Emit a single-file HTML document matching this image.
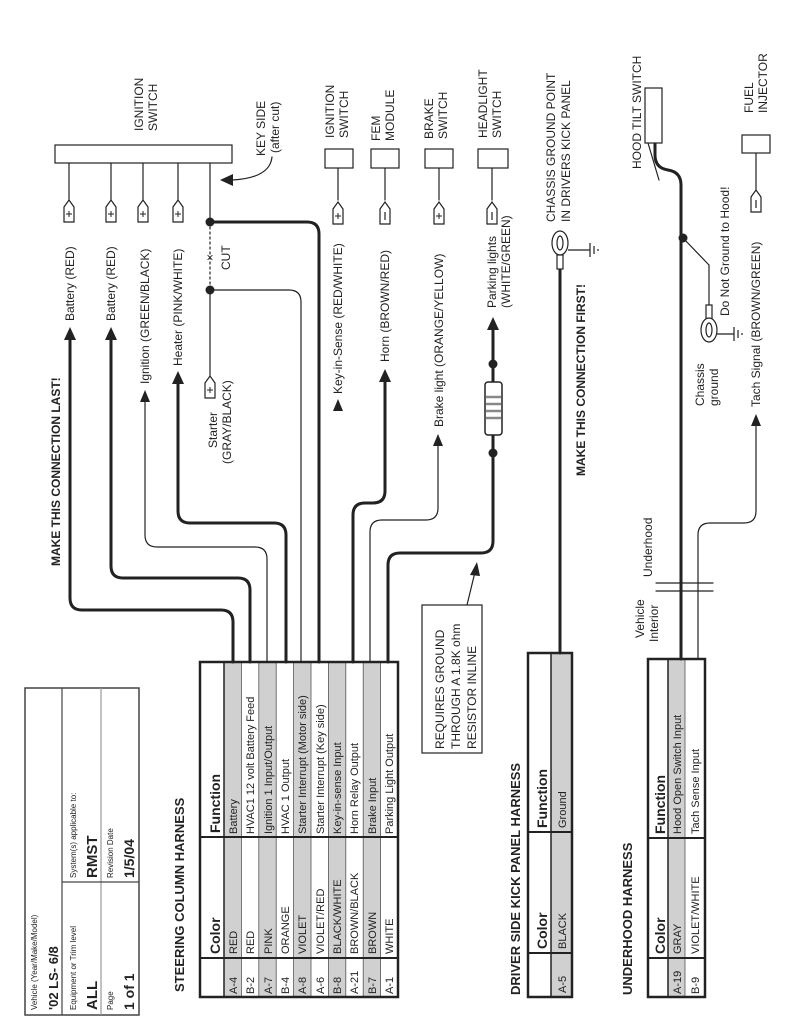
<!DOCTYPE html>
<html><head><meta charset="utf-8"><style>
html,body{margin:0;padding:0;background:#fff}
svg{display:block;font-family:"Liberation Sans",sans-serif}
.l{font-size:12px}
</style></head><body>
<svg width="800" height="1035" viewBox="0 0 800 1035" xmlns="http://www.w3.org/2000/svg">
<defs>
<g id="cp"><polygon points="-5,22 5,22 5,7 0,0 -5,7" fill="#fff" stroke="#222" stroke-width="1.2"/><line x1="-3" y1="14" x2="3" y2="14" stroke="#222" stroke-width="1"/><line x1="0" y1="11" x2="0" y2="17" stroke="#222" stroke-width="1"/></g>
<g id="cm"><polygon points="-5,22 5,22 5,7 0,0 -5,7" fill="#fff" stroke="#222" stroke-width="1.2"/><line x1="0" y1="10" x2="0" y2="18" stroke="#222" stroke-width="1.2"/></g>
</defs>
<g fill="#222" font-size="11">

<!-- Info box -->
<rect x="25" y="688" width="114" height="327" fill="#fff" stroke="#444" stroke-width="1.5"/>
<line x1="62" y1="688" x2="62" y2="1015" stroke="#444" stroke-width="1.2"/>
<line x1="101" y1="688" x2="101" y2="1015" stroke="#999" stroke-width="1.2"/>
<line x1="62" y1="882" x2="139" y2="882" stroke="#444" stroke-width="1.2"/>
<text font-size="8" transform="translate(37 1010) rotate(-90)">Vehicle (Year/Make/Model)</text>
<text font-size="13" font-weight="bold" transform="translate(58 1010) rotate(-90)">'02 LS- 6/8</text>
<text font-size="8" transform="translate(76 1010) rotate(-90)">Equipment or Trim level</text>
<text font-size="15" font-weight="bold" transform="translate(97 1010) rotate(-90)">ALL</text>
<text font-size="8" transform="translate(76 878) rotate(-90)">System(s) applicable to:</text>
<text font-size="15" font-weight="bold" transform="translate(97 878) rotate(-90)">RMST</text>
<text font-size="8" transform="translate(113 1010) rotate(-90)">Page</text>
<text font-size="14" font-weight="bold" transform="translate(134 1010) rotate(-90)">1 of 1</text>
<text font-size="8" transform="translate(113 878) rotate(-90)">Revision Date</text>
<text font-size="14" font-weight="bold" transform="translate(134 878) rotate(-90)">1/5/04</text>

<!-- Steering column table -->
<text font-size="13" font-weight="bold" transform="translate(184 992) rotate(-90)">STEERING COLUMN HARNESS</text>
<rect x="200" y="662" width="198" height="335" fill="#fff"/>
<rect x="224" y="662" width="17.4" height="335" fill="#d0d0d0"/>
<rect x="258.8" y="662" width="17.4" height="335" fill="#d0d0d0"/>
<rect x="293.6" y="662" width="17.4" height="335" fill="#d0d0d0"/>
<rect x="328.4" y="662" width="17.4" height="335" fill="#d0d0d0"/>
<rect x="363.2" y="662" width="17.4" height="335" fill="#d0d0d0"/>
<g stroke="#555" stroke-width="0.8">
<line x1="241.4" y1="662" x2="241.4" y2="997"/><line x1="258.8" y1="662" x2="258.8" y2="997"/><line x1="276.2" y1="662" x2="276.2" y2="997"/><line x1="293.6" y1="662" x2="293.6" y2="997"/><line x1="311" y1="662" x2="311" y2="997"/><line x1="328.4" y1="662" x2="328.4" y2="997"/><line x1="345.8" y1="662" x2="345.8" y2="997"/><line x1="363.2" y1="662" x2="363.2" y2="997"/><line x1="380.6" y1="662" x2="380.6" y2="997"/>
</g>
<line x1="224" y1="662" x2="224" y2="997" stroke="#222" stroke-width="1.5"/>
<line x1="200" y1="837" x2="398" y2="837" stroke="#222" stroke-width="2"/>
<line x1="200" y1="958" x2="398" y2="958" stroke="#222" stroke-width="2"/>
<rect x="200" y="662" width="198" height="335" fill="none" stroke="#222" stroke-width="2.5"/>
<text font-size="14" font-weight="bold" transform="translate(220 954) rotate(-90)">Color</text>
<text font-size="14" font-weight="bold" transform="translate(220 833) rotate(-90)">Function</text>
<g font-size="11">
<text transform="translate(237 994) rotate(-90)">A-4</text><text transform="translate(237 954) rotate(-90)">RED</text><text transform="translate(237 834) rotate(-90)">Battery</text>
<text transform="translate(254 994) rotate(-90)">B-2</text><text transform="translate(254 954) rotate(-90)">RED</text><text transform="translate(254 834) rotate(-90)">HVAC1 12 volt Battery Feed</text>
<text transform="translate(272 994) rotate(-90)">A-7</text><text transform="translate(272 954) rotate(-90)">PINK</text><text transform="translate(272 834) rotate(-90)">Ignition 1 Input/Output</text>
<text transform="translate(289 994) rotate(-90)">B-4</text><text transform="translate(289 954) rotate(-90)">ORANGE</text><text transform="translate(289 834) rotate(-90)">HVAC 1 Output</text>
<text transform="translate(306 994) rotate(-90)">A-8</text><text transform="translate(306 954) rotate(-90)">VIOLET</text><text transform="translate(306 834) rotate(-90)">Starter Interrupt (Motor side)</text>
<text transform="translate(324 994) rotate(-90)">A-6</text><text transform="translate(324 954) rotate(-90)">VIOLET/RED</text><text transform="translate(324 834) rotate(-90)">Starter Interrupt (Key side)</text>
<text transform="translate(341 994) rotate(-90)">B-8</text><text transform="translate(341 954) rotate(-90)">BLACK/WHITE</text><text transform="translate(341 834) rotate(-90)">Key-in-sense Input</text>
<text transform="translate(358 994) rotate(-90)">A-21</text><text transform="translate(358 954) rotate(-90)">BROWN/BLACK</text><text transform="translate(358 834) rotate(-90)">Horn Relay Output</text>
<text transform="translate(376 994) rotate(-90)">B-7</text><text transform="translate(376 954) rotate(-90)">BROWN</text><text transform="translate(376 834) rotate(-90)">Brake Input</text>
<text transform="translate(393 994) rotate(-90)">A-1</text><text transform="translate(393 954) rotate(-90)">WHITE</text><text transform="translate(393 834) rotate(-90)">Parking Light Output</text>
</g>

<!-- Resistor note -->
<rect x="422" y="605" width="60" height="148" fill="#fff" stroke="#222" stroke-width="1.2"/>
<text class="l" transform="translate(444 749) rotate(-90)">REQUIRES GROUND</text>
<text class="l" transform="translate(460 749) rotate(-90)">THROUGH A 1.8K ohm</text>
<text class="l" transform="translate(476 749) rotate(-90)">RESISTOR INLINE</text>
<line x1="467" y1="605" x2="475" y2="572" stroke="#222" stroke-width="1.2"/>
<polygon points="477,562 470,575 480,576"/>

<!-- Kick panel table -->
<text font-size="13" font-weight="bold" transform="translate(520 995) rotate(-90)">DRIVER SIDE KICK PANEL HARNESS</text>
<rect x="551" y="653" width="21" height="344" fill="#d0d0d0"/>
<line x1="551" y1="653" x2="551" y2="997" stroke="#222" stroke-width="1.5"/>
<line x1="528" y1="832" x2="572" y2="832" stroke="#222" stroke-width="2"/>
<line x1="528" y1="953" x2="572" y2="953" stroke="#222" stroke-width="2"/>
<rect x="528" y="653" width="44" height="344" fill="none" stroke="#222" stroke-width="2.5"/>
<text font-size="14" font-weight="bold" transform="translate(547 949) rotate(-90)">Color</text>
<text font-size="14" font-weight="bold" transform="translate(547 828) rotate(-90)">Function</text>
<text font-size="11" transform="translate(566 993) rotate(-90)">A-5</text>
<text font-size="11" transform="translate(566 949) rotate(-90)">BLACK</text>
<text font-size="11" transform="translate(566 828) rotate(-90)">Ground</text>

<!-- Underhood table -->
<text font-size="13" font-weight="bold" transform="translate(632 995) rotate(-90)">UNDERHOOD HARNESS</text>
<rect x="668" y="659" width="17" height="338" fill="#d0d0d0"/>
<line x1="668" y1="659" x2="668" y2="997" stroke="#222" stroke-width="1.5"/>
<line x1="685" y1="659" x2="685" y2="997" stroke="#555" stroke-width="0.8"/>
<line x1="648" y1="838" x2="705" y2="838" stroke="#222" stroke-width="2"/>
<line x1="648" y1="958" x2="705" y2="958" stroke="#222" stroke-width="2"/>
<rect x="648" y="659" width="57" height="338" fill="none" stroke="#222" stroke-width="2.5"/>
<text font-size="14" font-weight="bold" transform="translate(665 954) rotate(-90)">Color</text>
<text font-size="14" font-weight="bold" transform="translate(665 834) rotate(-90)">Function</text>
<text font-size="11" transform="translate(681 994) rotate(-90)">A-19</text>
<text font-size="11" transform="translate(681 954) rotate(-90)">GRAY</text>
<text font-size="11" transform="translate(681 834) rotate(-90)">Hood Open Switch Input</text>
<text font-size="11" transform="translate(699 994) rotate(-90)">B-9</text>
<text font-size="11" transform="translate(699 954) rotate(-90)">VIOLET/WHITE</text>
<text font-size="11" transform="translate(699 834) rotate(-90)">Tach Sense Input</text>

<!-- Wires -->
<g fill="none" stroke="#222" stroke-linecap="round">
<path stroke-width="3" d="M233 662 V622 Q233 610 221 610 H82 Q70 610 70 598 V338"/>
<path stroke-width="3" d="M250 662 V590 Q250 578 238 578 H123 Q111 578 111 566 V338"/>
<path stroke-width="1.2" d="M267 662 V559 Q267 547 255 547 H157 Q145 547 145 535 V400"/>
<path stroke-width="3" d="M286 662 V535 Q286 523 274 523 H190 Q178 523 178 511 V382"/>
<path stroke-width="1.2" d="M301 662 V302 Q301 290 289 290 H210"/>
<path stroke-width="3" d="M319 662 V234 Q319 222 307 222 H210"/>
<path stroke-width="3" d="M353 662 V515 Q353 503 365 503 H373 Q385 503 385 491 V380"/>
<path stroke-width="1.2" d="M370 662 V532 Q370 520 382 520 H426 Q438 520 438 508 V445"/>
<path stroke-width="3" d="M388 662 V565 Q388 553 400 553 H481 Q493 553 493 541 V328"/>
<path stroke-width="3" d="M560 653 V268"/>
<path stroke-width="3" d="M681 659 V185 Q681 172 668 170 Q655 168 655 155 V143"/>
<path stroke-width="1.2" d="M698 659 V535 Q698 523 710 523 H744 Q756 523 756 511 V425"/>
<g stroke-width="1.2">
<line x1="69" y1="163" x2="69" y2="200"/><line x1="111" y1="163" x2="111" y2="200"/><line x1="143" y1="163" x2="143" y2="200"/><line x1="178" y1="163" x2="178" y2="200"/>
<line x1="210" y1="163" x2="210" y2="222"/>
<line x1="210" y1="290" x2="210" y2="376"/>
<line x1="338" y1="168" x2="338" y2="200"/><line x1="385" y1="168" x2="385" y2="200"/><line x1="439" y1="168" x2="439" y2="200"/><line x1="492" y1="168" x2="492" y2="200"/>
<line x1="756" y1="153" x2="756" y2="190"/>
<line x1="648" y1="143" x2="659" y2="180"/>
<line x1="683" y1="238" x2="709" y2="265"/><line x1="709" y1="265" x2="709" y2="307"/>
</g>
<line x1="210" y1="222" x2="210" y2="290" stroke-width="1.2" stroke-dasharray="2,3"/>
<path stroke-width="1.2" d="M272 157 Q270 178 232 180"/>
<line x1="656" y1="583" x2="713" y2="583" stroke-width="1.2"/>
<line x1="656" y1="591" x2="713" y2="591" stroke-width="1.2"/>
</g>

<!-- arrowheads -->
<polygon points="70,327 64,340 76,340"/>
<polygon points="111,327 105,340 117,340"/>
<polygon points="145,390 140,402 150,402"/>
<polygon points="178,371 172,384 184,384"/>
<polygon points="338,399 333,411 343,411"/>
<polygon points="385,369 379,382 391,382"/>
<polygon points="438,434 433,446 443,446"/>
<polygon points="493,317 487,330 499,330"/>
<polygon points="756,414 751,426 761,426"/>
<polygon points="220,180 233,174 233,186"/>

<!-- dots -->
<circle cx="210" cy="222" r="4.5"/><circle cx="210" cy="290" r="4.5"/>
<circle cx="493" cy="364" r="4.5"/><circle cx="493" cy="453" r="4.5"/>
<circle cx="683" cy="238" r="4.5"/>
<text font-size="12" transform="translate(214 261) rotate(-90)">×</text>
<text class="l" transform="translate(230 270) rotate(-90)">CUT</text>

<!-- resistor -->
<rect x="485" y="382" width="17" height="53" rx="3" fill="#fff" stroke="#222" stroke-width="1.5"/>
<g stroke="#888" stroke-width="2.5"><line x1="486" y1="397" x2="501" y2="397"/><line x1="486" y1="404" x2="501" y2="404"/><line x1="486" y1="411" x2="501" y2="411"/><line x1="486" y1="418" x2="501" y2="418"/></g>

<!-- boxes -->
<rect x="55" y="145" width="177" height="18" fill="#fff" stroke="#222" stroke-width="1.2"/>
<rect x="325" y="149" width="28" height="19" fill="#fff" stroke="#222" stroke-width="1.2"/>
<rect x="371" y="149" width="28" height="19" fill="#fff" stroke="#222" stroke-width="1.2"/>
<rect x="425" y="149" width="28" height="19" fill="#fff" stroke="#222" stroke-width="1.2"/>
<rect x="478" y="149" width="30" height="19" fill="#fff" stroke="#222" stroke-width="1.2"/>
<rect x="645" y="88" width="17" height="55" fill="#fff" stroke="#222" stroke-width="1.2"/>
<rect x="742" y="135" width="28" height="18" fill="#fff" stroke="#222" stroke-width="1.2"/>

<!-- connectors -->
<use href="#cp" x="69" y="200"/><use href="#cp" x="111" y="200"/><use href="#cp" x="143" y="200"/><use href="#cp" x="178" y="200"/>
<use href="#cp" x="210" y="376"/>
<use href="#cp" x="338" y="202"/><use href="#cm" x="385" y="202"/><use href="#cp" x="439" y="202"/><use href="#cm" x="492" y="202"/>
<use href="#cm" x="756" y="190"/>

<!-- ring terminals -->
<g fill="#fff" stroke="#222" stroke-width="1.2">
<rect x="557" y="255" width="6" height="14"/>
<ellipse cx="560" cy="243" rx="8" ry="12"/>
<ellipse cx="560" cy="243" rx="3" ry="7"/>
<rect x="706" y="305" width="6" height="14"/>
<ellipse cx="709" cy="330" rx="8" ry="12"/>
<ellipse cx="709" cy="330" rx="3" ry="7"/>
</g>
<g stroke="#222" stroke-width="1.2">
<line x1="568" y1="250" x2="590" y2="250"/><line x1="590" y1="243" x2="590" y2="257"/><line x1="594" y1="246" x2="594" y2="254"/><line x1="598" y1="249" x2="598" y2="251"/>
<line x1="717" y1="334" x2="734" y2="334"/><line x1="734" y1="327" x2="734" y2="341"/><line x1="738" y1="330" x2="738" y2="338"/><line x1="742" y1="333" x2="742" y2="335"/>
</g>

<!-- labels -->
<text font-size="12" font-weight="bold" transform="translate(60 566) rotate(-90)">MAKE THIS CONNECTION LAST!</text>
<text class="l" transform="translate(74 321) rotate(-90)">Battery (RED)</text>
<text class="l" transform="translate(115 321) rotate(-90)">Battery (RED)</text>
<text class="l" transform="translate(149 384) rotate(-90)">Ignition (GREEN/BLACK)</text>
<text class="l" transform="translate(182 366) rotate(-90)">Heater (PINK/WHITE)</text>
<text class="l" transform="translate(217 448) rotate(-90)">Starter</text>
<text class="l" transform="translate(231 464) rotate(-90)">(GRAY/BLACK)</text>
<text class="l" transform="translate(143 131) rotate(-90)">IGNITION</text>
<text class="l" transform="translate(157 131) rotate(-90)">SWITCH</text>
<text class="l" transform="translate(265 156) rotate(-90)">KEY SIDE</text>
<text class="l" transform="translate(279 153) rotate(-90)">(after cut)</text>
<text class="l" transform="translate(342 394) rotate(-90)">Key-in-Sense (RED/WHITE)</text>
<text class="l" transform="translate(334 138) rotate(-90)">IGNITION</text>
<text class="l" transform="translate(348 138) rotate(-90)">SWITCH</text>
<text class="l" transform="translate(389 362) rotate(-90)">Horn (BROWN/RED)</text>
<text class="l" transform="translate(380 141) rotate(-90)">FEM</text>
<text class="l" transform="translate(394 141) rotate(-90)">MODULE</text>
<text class="l" transform="translate(443 427) rotate(-90)">Brake light (ORANGE/YELLOW)</text>
<text class="l" transform="translate(433 139) rotate(-90)">BRAKE</text>
<text class="l" transform="translate(447 139) rotate(-90)">SWITCH</text>
<text class="l" transform="translate(496 308) rotate(-90)">Parking lights</text>
<text class="l" transform="translate(510 308) rotate(-90)">(WHITE/GREEN)</text>
<text class="l" transform="translate(487 138) rotate(-90)">HEADLIGHT</text>
<text class="l" transform="translate(501 138) rotate(-90)">SWITCH</text>
<text class="l" transform="translate(555 222) rotate(-90)">CHASSIS GROUND POINT</text>
<text class="l" transform="translate(570 222) rotate(-90)">IN DRIVERS KICK PANEL</text>
<text font-size="12" font-weight="bold" transform="translate(585 476) rotate(-90)">MAKE THIS CONNECTION FIRST!</text>
<text class="l" transform="translate(641 169) rotate(-90)">HOOD TILT SWITCH</text>
<text class="l" transform="translate(704 406) rotate(-90)">Chassis</text>
<text class="l" transform="translate(718 406) rotate(-90)">ground</text>
<text class="l" transform="translate(729 316) rotate(-90)">Do Not Ground to Hood!</text>
<text class="l" transform="translate(760 407) rotate(-90)">Tach Signal (BROWN/GREEN)</text>
<text class="l" transform="translate(753 113) rotate(-90)">FUEL</text>
<text class="l" transform="translate(767 113) rotate(-90)">INJECTOR</text>
<text class="l" transform="translate(644 638) rotate(-90)">Vehicle</text>
<text class="l" transform="translate(658 642) rotate(-90)">Interior</text>
<text class="l" transform="translate(652 577) rotate(-90)">Underhood</text>
</g>
</svg>
</body></html>
